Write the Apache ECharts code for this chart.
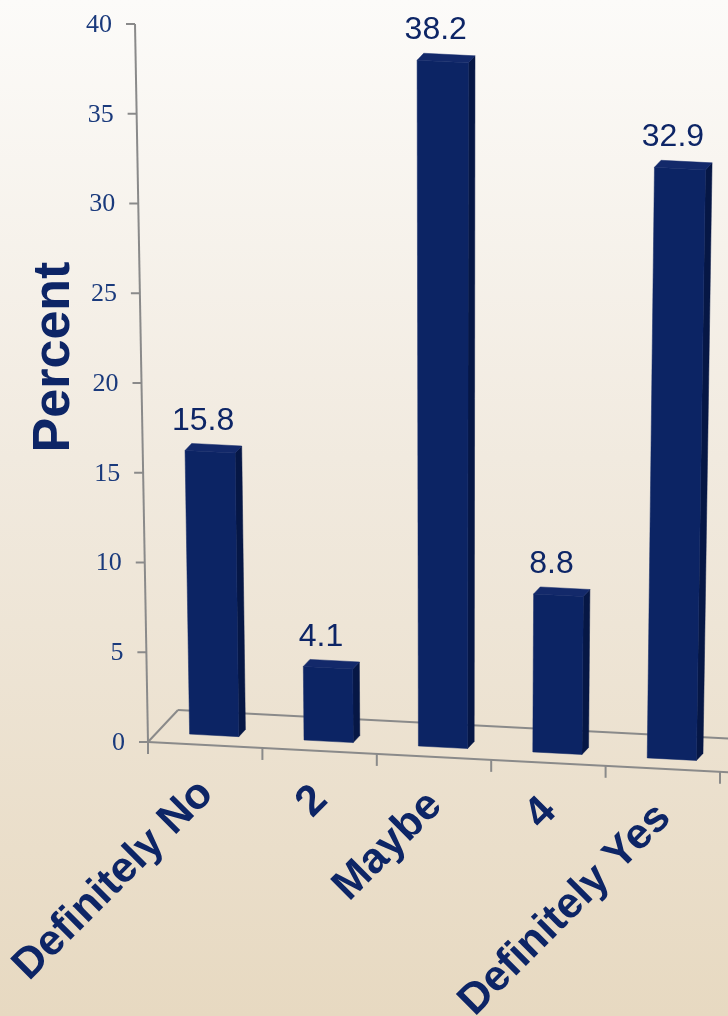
<!DOCTYPE html>
<html>
<head>
<meta charset="utf-8">
<script src="https://cdn.jsdelivr.net/npm/echarts@6/dist/echarts.min.js"></script>
<style>
  html, body { margin: 0; padding: 0; }
  #chart { width: 728px; height: 1016px; }
</style>
</head>
<body>
<div id="chart"></div>
<script>
// Survey responses (percent of respondents)
const categories = ['Definitely No', '2', 'Maybe', '4', 'Definitely Yes'];
const percents = [15.8, 4.1, 38.2, 8.8, 32.9];
const yTicks = [0, 5, 10, 15, 20, 25, 30, 35, 40];
const axisTitle = 'Percent';

const NAVY = '#0d2566';
const BAR_FRONT = '#0c2464';
const BAR_SIDE = '#061745';
const BAR_TOP = '#13296a';
const AXIS_GREY = '#8a8a8a';
const TICK_TEXT = '#1a3a7c';

// Pseudo-3D projection: floor tilts down to the right, verticals lean
// away from a vanishing column, and depth shifts up-right.
const VX = 440, K = 6.2e-5, SLOPE = 0.052, DEPTH_X = 30, DEPTH_Y = -32;
function makeProj(cs) {
  const x0 = cs.x, y0 = cs.y + cs.height;
  return function (x, y, d) {
    const h = y0 - y;
    return [
      x + (x - VX) * K * h + DEPTH_X * d,
      y + SLOPE * (x - x0) + DEPTH_Y * d
    ];
  };
}

const chart = echarts.init(document.getElementById('chart'));

const lineStyle = { stroke: AXIS_GREY, lineWidth: 2 };

chart.setOption({
  animation: false,
  backgroundColor: {
    type: 'linear', x: 0, y: 0, x2: 0, y2: 1,
    colorStops: [
      { offset: 0, color: '#fcfbf9' },
      { offset: 0.45, color: '#f1eadf' },
      { offset: 1, color: '#e7d9c1' }
    ]
  },
  grid: { left: 148, right: 8, top: 24, bottom: 274 },
  xAxis: { type: 'category', data: categories, show: false },
  yAxis: { type: 'value', min: 0, max: 40, interval: 5, show: false },
  graphic: [{
    type: 'text',
    x: 55, y: 357,
    rotation: Math.PI / 2,
    style: {
      text: axisTitle,
      fill: NAVY,
      font: 'bold 52px "Liberation Sans", Arial, sans-serif',
      align: 'center',
      verticalAlign: 'middle'
    }
  }],
  series: [
    {
      // floor, axis line and category ticks
      type: 'custom',
      clip: false,
      silent: true,
      data: [[0, 0]],
      renderItem: function (params, api) {
        const cs = params.coordSys;
        const P = makeProj(cs);
        const bw = api.size([1, 0])[0];
        const gl = api.coord([0, 0])[0] - bw / 2;
        const gr = gl + bw * categories.length;
        const yb = api.coord([0, 0])[1];
        const yt = api.coord([0, yTicks[yTicks.length - 1]])[1];
        const seg = (a, b) => ({ type: 'line', shape: { x1: a[0], y1: a[1], x2: b[0], y2: b[1] }, style: lineStyle });
        const kids = [
          seg(P(gl, yb, 1), P(gr + 40, yb, 1)),
          seg(P(gl, yb, 0), P(gl, yb, 1)),
          seg(P(gl, yb, 0), P(gr + 20, yb, 0)),
          seg(P(gl, yb, 0), P(gl, yt, 0))
        ];
        for (let j = 0; j <= categories.length; j++) {
          const p = P(gl + j * bw, yb, 0);
          kids.push(seg([p[0], p[1]], [p[0], p[1] + 12]));
        }
        return { type: 'group', children: kids };
      }
    },
    {
      // value axis ticks and labels
      type: 'custom',
      clip: false,
      silent: true,
      data: yTicks.map(v => [0, v]),
      renderItem: function (params, api) {
        const cs = params.coordSys;
        const P = makeProj(cs);
        const bw = api.size([1, 0])[0];
        const gl = api.coord([0, 0])[0] - bw / 2;
        const v = api.value(1);
        const p = P(gl, api.coord([0, v])[1], 0);
        return {
          type: 'group',
          children: [
            { type: 'line', shape: { x1: p[0] - 9, y1: p[1], x2: p[0], y2: p[1] }, style: lineStyle },
            {
              type: 'text', x: p[0] - 23, y: p[1] + 1,
              style: {
                text: String(v), fill: TICK_TEXT,
                font: '26px "Liberation Serif", "Times New Roman", serif',
                align: 'right', verticalAlign: 'middle'
              }
            }
          ]
        };
      }
    },
    {
      // 3D boxes with value labels
      type: 'custom',
      clip: false,
      data: percents.map((v, i) => [i, v]),
      renderItem: function (params, api) {
        const cs = params.coordSys;
        const P = makeProj(cs);
        const i = api.value(0), v = api.value(1);
        const base = api.coord([i, 0]);
        const top = api.coord([i, v]);
        const w = api.size([1, 0])[0] * 0.43;
        const xl = base[0] - w / 2, xr = base[0] + w / 2;
        const y0 = base[1], y1 = top[1];
        const d0 = 0.3, d1 = 0.52;
        const poly = (pts, fill) => ({ type: 'polygon', shape: { points: pts }, style: { fill: fill, stroke: fill, lineWidth: 0.5 } });
        const front = [P(xl, y0, d0), P(xr, y0, d0), P(xr, y1, d0), P(xl, y1, d0)];
        const side = [P(xr, y0, d0), P(xr, y0, d1), P(xr, y1, d1), P(xr, y1, d0)];
        const lid = [P(xl, y1, d0), P(xr, y1, d0), P(xr, y1, d1), P(xl, y1, d1)];
        const tl = P(base[0], y1, d1);
        const fc = P(base[0], y1, d0);
        return {
          type: 'group',
          children: [
            poly(side, BAR_SIDE),
            poly(front, BAR_FRONT),
            poly(lid, BAR_TOP),
            {
              type: 'text', x: fc[0] - 7, y: tl[1] - 8,
              style: {
                text: v.toFixed(1), fill: NAVY,
                font: '32px "Liberation Sans", Arial, sans-serif',
                align: 'center', verticalAlign: 'bottom'
              }
            }
          ]
        };
      }
    },
    {
      // rotated category labels
      type: 'custom',
      clip: false,
      silent: true,
      data: categories.map((c, i) => [i, 0]),
      renderItem: function (params, api) {
        const cs = params.coordSys;
        const P = makeProj(cs);
        const c = api.coord([api.value(0), 0]);
        const p = P(c[0], c[1], 0);
        return {
          type: 'text',
          x: p[0] - 14, y: p[1] + 27,
          rotation: Math.PI / 4,
          style: {
            text: categories[params.dataIndex], fill: NAVY,
            font: 'bold 43px "Liberation Sans", Arial, sans-serif',
            align: 'right', verticalAlign: 'top'
          }
        };
      }
    }
  ]
});
</script>
</body>
</html>
